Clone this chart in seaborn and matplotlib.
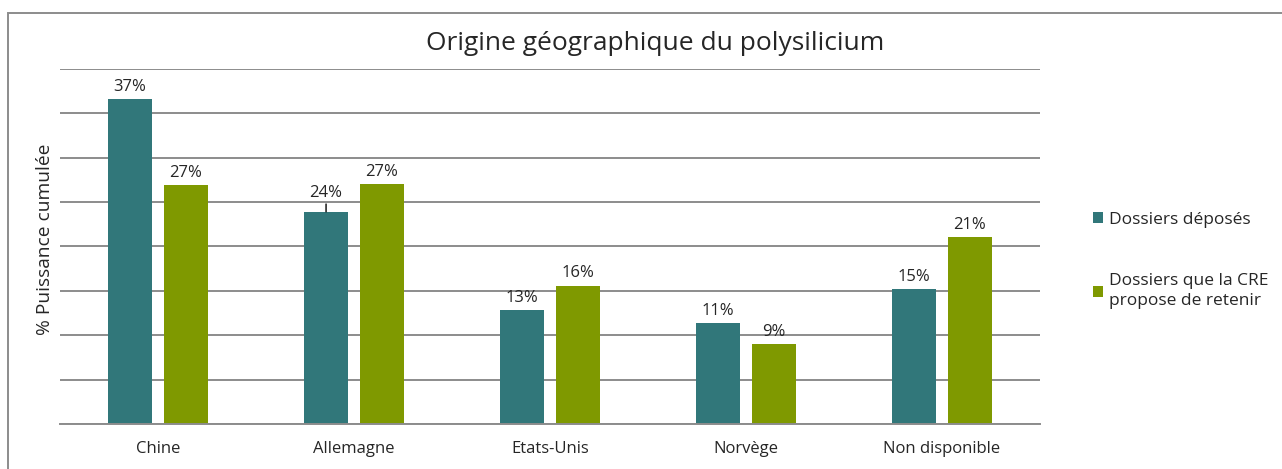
import pandas as pd
import matplotlib.pyplot as plt
import seaborn as sns
from matplotlib.patches import Rectangle

categories = ['Chine', 'Allemagne', 'Etats-Unis', 'Norvège', 'Non disponible']
series = ['Dossiers déposés', 'Dossiers que la CRE\npropose de retenir']
deposes = [36.6, 23.9, 12.8, 11.4, 15.2]
retenus = [26.9, 27.0, 15.6, 9.0, 21.1]
colors = ['#31777A', '#7F9900']

df = pd.DataFrame({
    'Origine': categories * 2,
    'Dossier': [series[0]] * 5 + [series[1]] * 5,
    'Part': deposes + retenus,
})

sns.set_style('white')
plt.rcParams['font.family'] = ['Open Sans', 'DejaVu Sans']

fig = plt.figure(figsize=(12.82, 4.69), dpi=100)
ax = fig.add_axes([0.0468, 0.096, 0.7644, 0.757])

sns.barplot(data=df, x='Origine', y='Part', hue='Dossier', palette=colors,
            width=0.57, gap=0.21, saturation=1, linewidth=0, ax=ax, legend=True)

ax.set_ylim(0, 40)
ax.set_xlim(-0.5, 4.5)
ax.set_yticks(range(0, 41, 5))
ax.set_yticklabels([])
ax.tick_params(axis='y', length=0)
ax.tick_params(axis='x', length=0, labelsize=12, pad=12)
ax.yaxis.grid(True, color='#8c8c8c', linewidth=1.4)
ax.set_axisbelow(True)
for s in ['top', 'right', 'left']:
    ax.spines[s].set_visible(False)
ax.spines['bottom'].set_color('#8c8c8c')
ax.spines['bottom'].set_linewidth(1.4)
ax.set_xlabel('')
ax.set_ylabel('% Puissance cumulée', fontsize=13.8, labelpad=0)
ax.yaxis.set_label_coords(-0.006, 0.52)

# value labels
for container in ax.containers:
    for bar in container:
        h = bar.get_height()
        xc = bar.get_x() + bar.get_width() / 2
        if abs(h - deposes[1]) < 1e-6:
            ax.annotate(f'{h:.0f}%', xy=(xc, h), xytext=(0, 8), textcoords='offset points',
                        ha='center', va='bottom', fontsize=12,
                        arrowprops=dict(arrowstyle='-', color='black', lw=1, shrinkA=0, shrinkB=0))
        else:
            ax.annotate(f'{h:.0f}%', xy=(xc, h), xytext=(0, 3), textcoords='offset points',
                        ha='center', va='bottom', fontsize=12)

fig.text(655 / 1282, 1 - 43 / 469, 'Origine géographique du polysilicium',
         fontsize=19, ha='center', va='center')

leg = ax.legend(loc='center left', bbox_to_anchor=(1.038, 0.46), frameon=False,
                fontsize=12.5, handlelength=0.6, handleheight=0.6, handletextpad=0.35,
                labelspacing=2.6)
for t in leg.get_texts():
    t.set_linespacing(1.35)

fig.patches.append(Rectangle((8 / 1282, -0.2), 2, 1.2 - 13 / 469, transform=fig.transFigure,
                             fill=False, edgecolor='#8c8c8c', linewidth=1.4))

fig.savefig('out.png', dpi=100)
